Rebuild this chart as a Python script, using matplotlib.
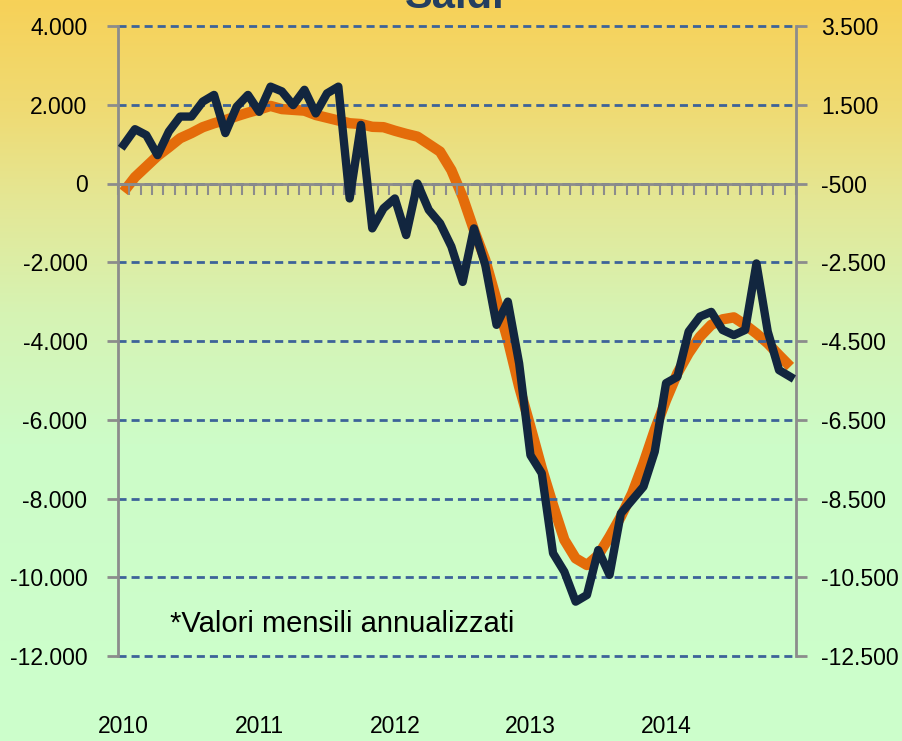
import numpy as np
import matplotlib
matplotlib.use('Agg')
import matplotlib.pyplot as plt
from matplotlib import font_manager
from matplotlib.colors import LinearSegmentedColormap
from matplotlib.ticker import FuncFormatter

years = ['2010', '2011', '2012', '2013', '2014']

# monthly values, Jan 2010 - Dec 2014 (left axis)
saldo_mensile = [980, 1380, 1230, 720, 1320, 1700, 1700, 2080, 2250, 1280, 1950, 2250,
                 1820, 2460, 2340, 1990, 2380, 1780, 2290, 2460, -380, 1490, -1140, -630,
                 -380, -1310, 0, -670, -1010, -1600, -2500, -1140, -2070, -3590, -3000, -4570,
                 -6900, -7360, -9390, -9860, -10620, -10450, -9310, -9940, -8380, -8040, -7700, -6810,
                 -5070, -4910, -3760, -3380, -3260, -3720, -3850, -3720, -2030, -3760, -4740, -4910]

# smoothed trend (right axis)
trend = [-710, -340, -70, 200, 420, 650, 780, 930, 1030, 1110, 1210, 1300,
         1380, 1470, 1390, 1370, 1350, 1240, 1170, 1100, 1030, 1010, 940, 930,
         840, 760, 690, 500, 310, -160, -840, -1680, -2440, -3460, -4480, -5660,
         -6680, -7730, -8670, -9550, -10020, -10190, -9940, -9470, -8960, -8370, -7610, -6760,
         -6000, -5320, -4810, -4390, -4090, -3950, -3900, -4090, -4310, -4560, -4860, -5150]

left_ticks = np.arange(-12000, 4001, 2000)
right_ticks = np.arange(-12500, 3501, 2000)

months = np.arange(len(saldo_mensile))

fmt = FuncFormatter(lambda v, p: f'{v:,.0f}'.replace(',', '.'))
installed = {f.name for f in font_manager.fontManager.ttflist}
if 'Liberation Sans Narrow' in installed:
    num_font, num_size = ['Liberation Sans Narrow', 'DejaVu Sans'], 20
else:
    num_font, num_size = ['Liberation Sans', 'DejaVu Sans'], 16.5
axis_grey = '#8C8C8C'

fig = plt.figure(figsize=(9.02, 7.41), dpi=100)

# background gradient
bg = fig.add_axes([0, 0, 1, 1], zorder=-5)
cmap = LinearSegmentedColormap.from_list('bg', [(0.0, '#F7D158'), (0.15, '#EFDB74'),
                                                (0.27, '#E4E795'), (0.42, '#D6F3B3'),
                                                (0.6, '#CDFCC8'), (1.0, '#CCFFCC')])
bg.imshow(np.linspace(0, 1, 256).reshape(-1, 1), aspect='auto', cmap=cmap, extent=[0, 1, 0, 1])
bg.axis('off')

ax = fig.add_axes([118 / 902, 1 - 656 / 741, 678 / 902, 630 / 741])
ax.set_facecolor('none')
ax2 = ax.twinx()
ax2.set_facecolor('none')

ax2.plot(months, trend, color='#E46C0A', lw=7.5, solid_capstyle='butt', zorder=3)
ax.plot(months, saldo_mensile, color='#12263F', lw=6, solid_joinstyle='round', zorder=4)
ax.set_zorder(ax2.get_zorder() + 1)

ax.set_xlim(-0.5, len(months) - 0.5)
ax.set_ylim(-12000, 4000)
ax2.set_ylim(-12500, 3500)
ax.set_yticks(left_ticks)
ax2.set_yticks(right_ticks)
ax.yaxis.set_major_formatter(fmt)
ax2.yaxis.set_major_formatter(fmt)

ax.grid(axis='y', color='#3D6399', lw=2, linestyle=(0, (2.9, 1.8)))
for gl in ax.get_ygridlines():
    gl.set_clip_on(False)
ax.set_axisbelow(True)

for s in ['top', 'right']:
    ax.spines[s].set_visible(False)
for s in ['top', 'left', 'bottom']:
    ax2.spines[s].set_visible(False)
ax.spines['bottom'].set_position(('data', 0))
for sp in [ax.spines['left'], ax.spines['bottom'], ax2.spines['right']]:
    sp.set_color(axis_grey)
    sp.set_linewidth(2)

ax.set_xticks(np.arange(-0.5, len(months), 1))
ax.set_xticklabels([])
ax.tick_params(axis='x', direction='out', length=8, width=1.5, color=axis_grey)
ax.tick_params(axis='y', direction='out', length=8, width=2, color=axis_grey, pad=14)
ax2.tick_params(axis='y', direction='out', length=8, width=2, color=axis_grey, pad=10)
for lab in ax.get_yticklabels() + ax2.get_yticklabels():
    lab.set_fontfamily(num_font)
    lab.set_fontsize(num_size)

for i, y in enumerate(years):
    ax.text(i * 12, -0.112, y, transform=ax.get_xaxis_transform(), ha='center', va='center',
            fontsize=num_size, family=num_font)

ax.text(0.077, 0.038, '*Valori mensili annualizzati', transform=ax.transAxes,
        fontsize=21, family=['Liberation Sans', 'DejaVu Sans'], va='baseline')

fig.text(0.504, 1 - 8 / 741, 'Saldi', ha='center', va='baseline', fontsize=30,
         fontweight='bold', color='#243F60', family=['Liberation Sans', 'DejaVu Sans'])

plt.savefig('out.png', dpi=100)
